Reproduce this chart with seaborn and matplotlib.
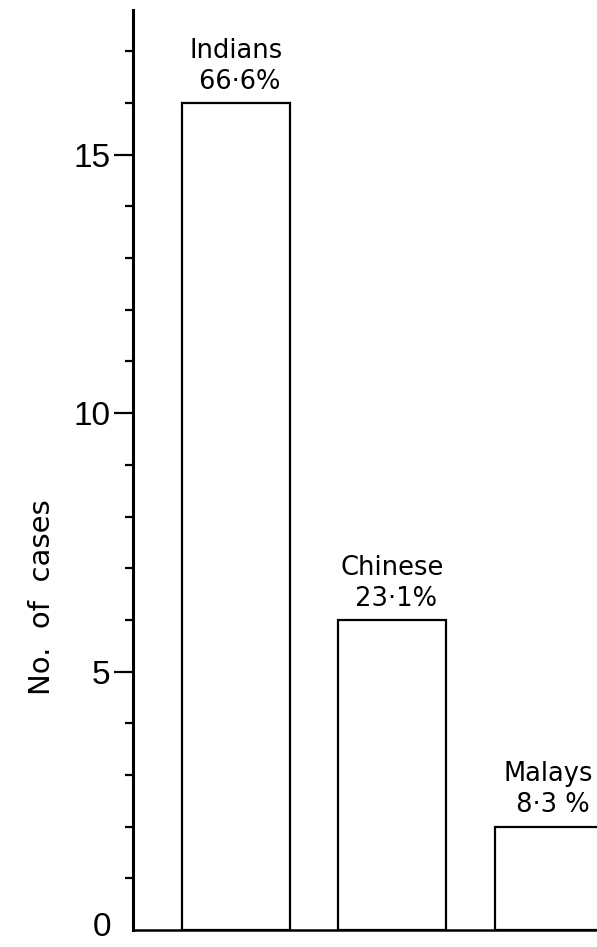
import matplotlib
matplotlib.use('Agg')
import matplotlib.pyplot as plt
import matplotlib.transforms as mtransforms
import seaborn as sns
from matplotlib.ticker import MultipleLocator, FixedLocator

# Datos
grupos = ['Indians', 'Chinese', 'Malays']
casos = [16, 6, 2]
porcentajes = ['66·6%', '23·1%', '8·3 %']
ticks_mayores = [0, 5, 10, 15]

sns.set_style('white', {'axes.edgecolor': 'black', 'text.color': 'black',
                        'xtick.color': 'black', 'ytick.color': 'black'})
plt.rcParams['font.family'] = ['DejaVu Sans']

fig = plt.figure(figsize=(5.97, 9.47), dpi=100)
ax = fig.add_axes([133 / 597, 17 / 947, 1 - 133 / 597, 920 / 947])

sns.barplot(x=grupos, y=casos, color='white', edgecolor='black',
            linewidth=1.6, width=0.69, saturation=1, ax=ax)

ax.set_xlim(-0.66, 2.31)
ax.set_ylim(0, 17.8)

# Ejes: solo izquierda y abajo
sns.despine(ax=ax, top=True, right=True)
ax.spines['left'].set_linewidth(2.2)
ax.spines['bottom'].set_linewidth(1.8)
ax.set_xticks([])
ax.set_xlabel('')
ax.set_ylabel('')

ax.yaxis.set_major_locator(FixedLocator(ticks_mayores))
ax.yaxis.set_minor_locator(MultipleLocator(1))
ax.tick_params(axis='y', which='major', direction='out', length=14,
               width=1.6, pad=2, labelsize=24, left=True,
               color='black', labelcolor='black')
ax.tick_params(axis='y', which='minor', direction='out', length=6,
               width=1.6, left=True, color='black')
for lab in ax.get_yticklabels():
    lab.set_family(['Liberation Sans Narrow', 'Liberation Sans', 'DejaVu Sans'])

# el 0 sin marca y un poco más arriba para que no se corte
tick0 = ax.yaxis.get_major_ticks()[0]
tick0.tick1line.set_visible(False)
tick0.label1.set_transform(tick0.label1.get_transform() +
                           mtransforms.ScaledTranslation(0, 6 / 100, fig.dpi_scale_trans))

# Etiquetas sobre las barras
for barra, g, p in zip(ax.patches, grupos, porcentajes):
    cx = barra.get_x() + barra.get_width() / 2
    ax.annotate(f'{g}\n {p}', (cx, barra.get_height()), xytext=(0, 6),
                textcoords='offset points', ha='center', va='bottom',
                fontsize=18.5, linespacing=1.25, color='black',
                annotation_clip=False)

fig.text(42 / 597, 1 - 597 / 947, 'No.  of  cases', rotation=90,
         ha='center', va='center', fontsize=21, color='black')

fig.savefig('out.png', dpi=100, facecolor='white')
